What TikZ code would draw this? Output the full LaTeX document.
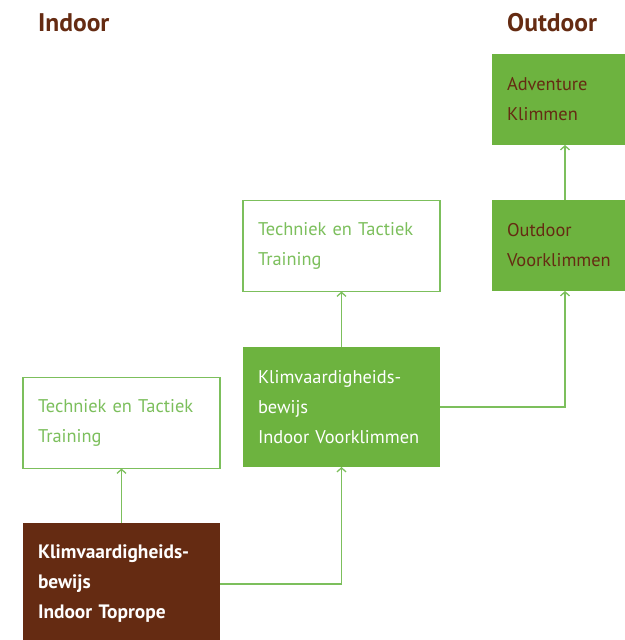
\documentclass[tikz,border=0pt]{standalone}
\usepackage{fontspec}
\setmainfont{PT Sans}
\usetikzlibrary{arrows.meta}
\definecolor{kgreen}{HTML}{6DB33F}
\definecolor{kbrown}{HTML}{652B12}
\definecolor{kline}{HTML}{7CBF5C}
\begin{document}
\begin{tikzpicture}[x=1pt,y=-1pt,
  box/.style={rectangle,inner xsep=15pt,inner ysep=0pt,outer sep=0pt,align=left,anchor=north west,
    font=\fontsize{18.4}{30}\selectfont},
  greenbox/.style={box,fill=kgreen,text=white},
  outbox/.style={box,fill=kgreen,text=kbrown},
  whitebox/.style={box,draw=kline,line width=1.3pt,text=kline,fill=white},
  brownbox/.style={box,fill=kbrown,text=white,font=\fontsize{19.4}{30}\selectfont\bfseries},
  title/.style={anchor=base west,inner sep=0pt,text=kbrown,font=\fontsize{25.5}{28}\selectfont\bfseries},
  conn/.style={draw=kline,line width=1.3pt,-{Straight Barb[length=4pt,width=9pt,line width=1.3pt]}}]
\useasboundingbox (0,0) rectangle (624,640);
\node[title] (tin) at (38,31) {Indoor};
\node[title] (tout) at (507,31) {Outdoor};
\node[outbox,text width=116pt,minimum height=91pt] (adv) at (492,54) {Adventure\\Klimmen};
\node[outbox,text width=116pt,minimum height=91pt] (ovk) at (492,200) {Outdoor\\Voorklimmen};
\node[whitebox,text width=167pt,minimum height=91pt] (tt2) at (243,200.5) {Techniek en Tactiek\\Training};
\node[greenbox,text width=167pt,minimum height=120pt] (kvbv) at (243,347) {Klimvaardigheids-\\bewijs\\Indoor Voorklimmen};
\node[whitebox,text width=167pt,minimum height=91pt] (tt1) at (23,377.5) {Techniek en Tactiek\\Training};
\node[brownbox,text width=167pt,minimum height=122pt] (kvbt) at (23,523) {Klimvaardigheids-\\bewijs\\Indoor Toprope};
\draw[conn] (kvbt.north) -- (tt1.south);
\draw[conn] (kvbt.east) -| (kvbv.south);
\draw[conn] (kvbv.north) -- (tt2.south);
\draw[conn] (kvbv.east) -| (ovk.south);
\draw[conn] (ovk.north) -- (adv.south);
\end{tikzpicture}
\end{document}
